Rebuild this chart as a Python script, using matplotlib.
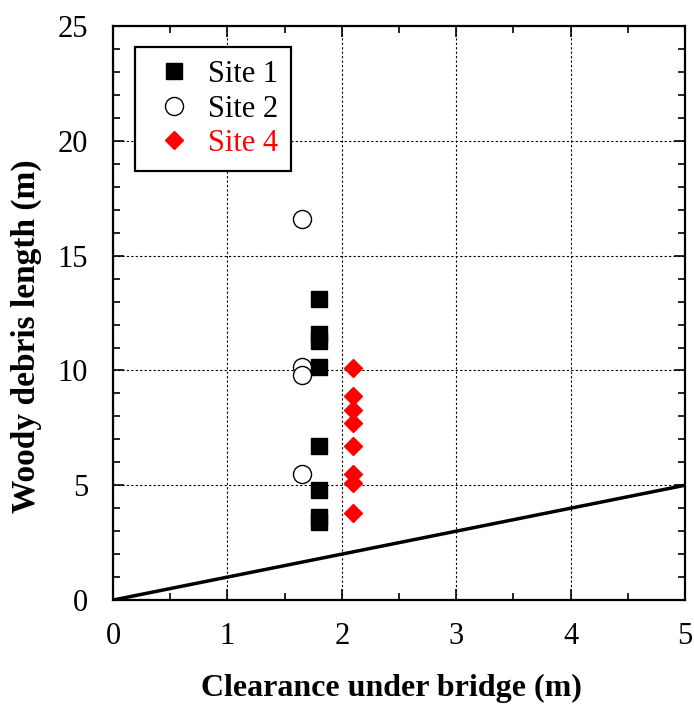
import numpy as np
import matplotlib
matplotlib.use('Agg')
import matplotlib.pyplot as plt
from matplotlib.ticker import MultipleLocator

plt.rcParams['font.family'] = ['Liberation Serif', 'DejaVu Serif']

# data
site1_x = [1.8, 1.8, 1.8, 1.8, 1.8, 1.8, 1.8, 1.8]
site1_y = [13.1, 11.6, 11.3, 10.15, 6.7, 4.8, 3.6, 3.4]

site2_x = [1.65, 1.65, 1.65, 1.65]
site2_y = [16.6, 10.15, 9.8, 5.5]

site4_x = [2.1, 2.1, 2.1, 2.1, 2.1, 2.1, 2.1, 2.1]
site4_y = [10.1, 8.9, 8.3, 7.7, 6.7, 5.5, 5.1, 3.8]

line_x = [0, 5]
line_y = [0, 5]

fig = plt.figure(figsize=(6.94, 7.08), dpi=100)
ax = fig.add_axes([0.163, 0.1525, 0.824, 0.8105])

ax.plot(line_x, line_y, color='k', lw=2.5, zorder=2)
ax.plot(site1_x, site1_y, 's', color='k', ms=12, ls='none', label='Site 1', zorder=3)
ax.plot(site2_x, site2_y, 'o', mfc='white', mec='k', mew=1, ms=13, ls='none', label='Site 2', zorder=3)
ax.plot(site4_x, site4_y, 'D', color='red', ms=9.5, ls='none', label='Site 4', zorder=3)

ax.set_xlim(0, 5)
ax.set_ylim(0, 25)
ax.xaxis.set_major_locator(MultipleLocator(1))
ax.xaxis.set_minor_locator(MultipleLocator(0.5))
ax.yaxis.set_major_locator(MultipleLocator(5))
ax.yaxis.set_minor_locator(MultipleLocator(1))
ax.tick_params(which='both', direction='in', top=True, right=True, labelsize=22, width=1.2)
ax.tick_params(which='major', length=8)
ax.tick_params(which='minor', length=5)
ax.tick_params(axis='x', which='major', pad=16)
ax.tick_params(axis='y', which='major', pad=18)
ax.grid(True, which='major', ls=(0, (2, 2)), color='k', lw=0.8)
for s in ax.spines.values():
    s.set_linewidth(1.6)

ax.set_xlabel('Clearance under bridge (m)', fontsize=23, fontweight='bold')
ax.set_ylabel('Woody debris length (m)', fontsize=24, fontweight='bold')
ax.xaxis.set_label_coords(0.486, -0.128)
ax.yaxis.set_label_coords(-0.124, 0.46)

leg = ax.legend(loc='upper left', fontsize=22, frameon=True, fancybox=False,
                edgecolor='k', framealpha=1, handlelength=1.7, handletextpad=0.26,
                borderpad=0.42, labelspacing=0.18, borderaxespad=0,
                bbox_to_anchor=(22 / 572, 1 - 21 / 574))
leg.get_frame().set_linewidth(1.6)
leg.get_texts()[2].set_color('red')

fig.savefig('out.png', dpi=100)
